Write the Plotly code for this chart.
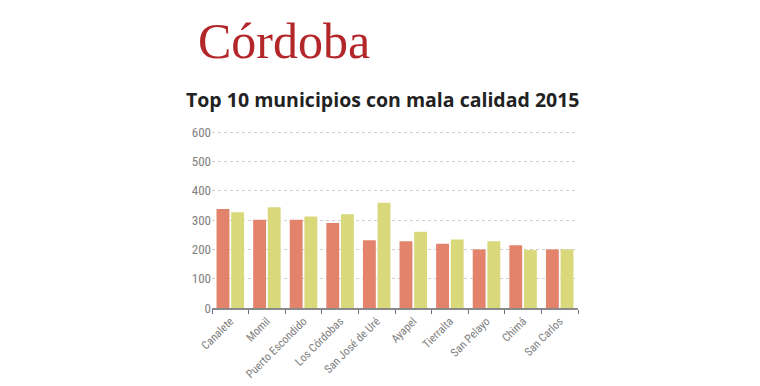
import plotly.graph_objects as go

municipios = ["Canalete", "Momil", "Puerto Escondido", "Los Córdobas", "San José de Uré",
              "Ayapel", "Tierralta", "San Pelayo", "Chimá", "San Carlos"]
serie_a = [338, 301, 301, 290, 231, 228, 219, 200, 214, 200]
serie_b = [327, 344, 312, 320, 359, 260, 234, 228, 198, 200]
y_ticks = [0, 100, 200, 300, 400, 500, 600]

# page body has an 8px margin; work in figure coordinates (picture - 8)
OFF = 8
W, H = 760 - OFF, 386 - OFF
L, R, B = 212 - OFF, 578 - OFF, 308 - OFF
PXU = 176 / 600.0           # pixels per unit
YTOP = 614                  # a bit above 600 so the top gridline shows
T = B - YTOP * PXU

def px(x):
    return (x - OFF - L) / (R - L)

def py(y):
    return (B - (y - OFF)) / (B - T)

fig = go.Figure()
fig.add_trace(go.Bar(x=municipios, y=serie_a, marker=dict(color="#e3836c", line_width=0),
                     name="A", showlegend=False))
fig.add_trace(go.Bar(x=municipios, y=serie_b, marker=dict(color="#d9d97c", line_width=0),
                     name="B", showlegend=False))

narrow = "Roboto Condensed, Liberation Sans Narrow, Roboto, sans-serif"

fig.update_layout(
    width=W, height=H,
    margin=dict(l=L, r=W - R, t=T, b=H - B, pad=0, autoexpand=False),
    paper_bgcolor="white", plot_bgcolor="white",
    barmode="group", bargap=0.2, bargroupgap=0.12,
    xaxis=dict(
        automargin=False,
        showline=True, linecolor="#8a8a8a", linewidth=2,
        ticks="outside", tickson="boundaries", ticklen=4, tickcolor="#6a6a8a", tickwidth=1,
        tickangle=-45, showgrid=False,
        tickfont=dict(family=narrow, size=11.5, color="#808080"),
    ),
    yaxis=dict(
        automargin=False,
        range=[0, YTOP], tickvals=y_ticks, ticktext=[str(v) for v in y_ticks],
        showgrid=True, gridcolor="#cfcfcf", griddash="dot", gridwidth=1,
        zeroline=False, showline=False, ticks="",
        tickfont=dict(family=narrow, size=13, color="#808080"),
    ),
    annotations=[
        dict(text="Córdoba", xref="paper", yref="paper", x=px(196), y=py(41),
             xanchor="left", yanchor="middle", showarrow=False,
             font=dict(family="Liberation Serif, DejaVu Serif, serif", size=50, color="#b3262a")),
        dict(text="<b>Top 10 municipios con mala calidad 2015</b>", xref="paper", yref="paper",
             x=px(184), y=py(99), xanchor="left", yanchor="middle", showarrow=False,
             font=dict(family="Open Sans, Noto Sans, sans-serif", size=19.5, color="#222222")),
    ],
)

fig.write_html("out.html")
